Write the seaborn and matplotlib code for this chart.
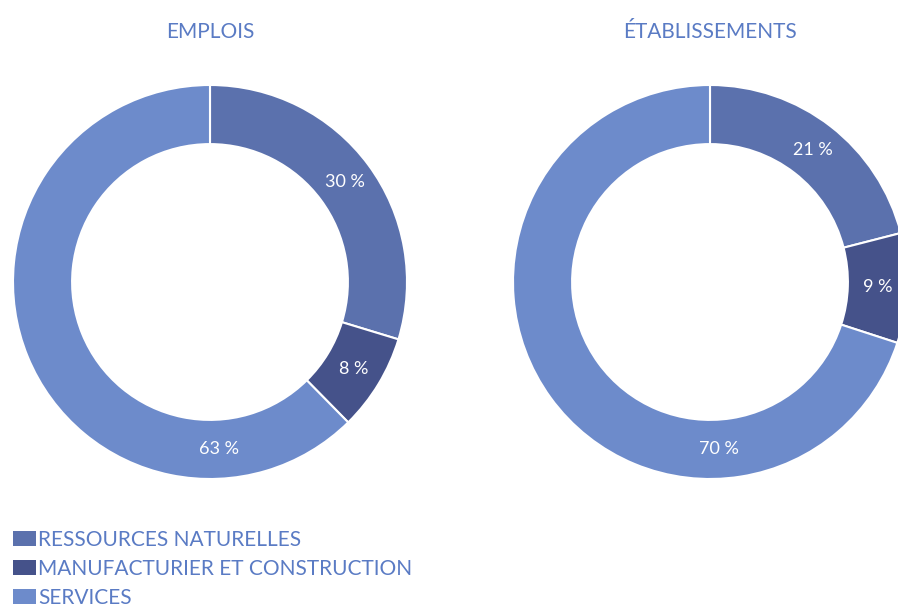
import matplotlib
matplotlib.use("Agg")
import numpy as np
import matplotlib.pyplot as plt
import seaborn as sns
from matplotlib.patches import Patch

# Data
categories = ["RESSOURCES NATURELLES", "MANUFACTURIER ET CONSTRUCTION", "SERVICES"]
emplois = [30, 8, 63]
etablissements = [21, 9, 70]
titles = ["EMPLOIS", "ÉTABLISSEMENTS"]

sns.set_theme(style="white")
plt.rcParams["font.family"] = ["Lato", "DejaVu Sans"]
colors = ["#5b71ad", "#45528a", "#6d8bcb"]
text_blue = "#5a7bc4"

fig = plt.figure(figsize=(8.98, 6.12), dpi=100)
W, H = 898, 612


def donut(cx, cy, r, values, title):
    ax = fig.add_axes([(cx - r) / W, (H - cy - r) / H, 2 * r / W, 2 * r / H])
    ax.pie(values, colors=colors, startangle=90, counterclock=False, radius=1.0,
           wedgeprops=dict(width=0.3, edgecolor="white", linewidth=1.5))
    total = sum(values)
    cum = 0
    for i, v in enumerate(values):
        mid = 90 - 360 * (cum + v / 2) / total
        cum += v
        if i == len(values) - 1:
            mid = -87  # last label sits at the bottom of the ring
        ax.text(0.85 * np.cos(np.radians(mid)), 0.85 * np.sin(np.radians(mid)), f"{v} %",
                ha="center", va="center", color="white", fontsize=13)
    ax.set_xlim(-1, 1)
    ax.set_ylim(-1, 1)
    ax.set_aspect("auto")
    ax.axis("off")
    fig.text(cx / W, 1 - 32 / H, title, ha="center", va="center", color=text_blue,
             fontsize=15)


donut(210, 282, 197, emplois, titles[0])
donut(710, 282, 197, etablissements, titles[1])

handles = [Patch(facecolor=c, edgecolor="none") for c in colors]
leg = fig.legend(handles, categories, loc="upper left", bbox_to_anchor=(13 / W, 1 - 530 / H),
                 frameon=False, fontsize=15, handlelength=1.1, handleheight=0.75,
                 handletextpad=0.1, labelspacing=0.42, borderpad=0, borderaxespad=0)
for t in leg.get_texts():
    t.set_color(text_blue)

fig.savefig("out.png", dpi=100)
